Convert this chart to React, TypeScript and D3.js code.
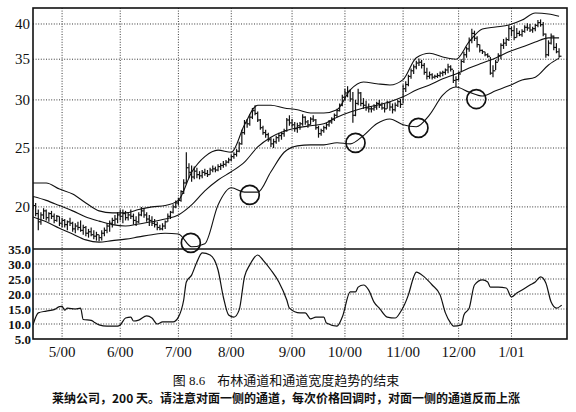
import React from 'react';
import * as d3 from 'd3';

const monthLabels = ['5/00', '6/00', '7/00', '8/00', '9/00', '10/00', '11/00', '12/00', '1/01'];
const monthDays = [11, 33, 55, 75, 98, 118, 140, 161, 181];
const priceTicks = [20, 25, 30, 35, 40];
const widthTicks = [5, 10, 15, 20, 25, 30, 35];

const highs = [
  20.8, 20.3, 19.8, 19.6, 19.9, 19.8, 19.6, 19.7, 19.5, 19.4, 19.3, 19.2,
  19.1, 19.0, 19.2, 18.9, 18.8, 18.9, 19.0, 18.7, 18.6, 18.4, 18.5, 18.3, 18.2, 18.0,
  18.3, 18.5, 18.8, 19.0, 19.2, 19.4, 19.6, 19.8,
  19.8, 19.7, 19.6, 19.8, 19.5, 19.3, 19.6, 20.0, 19.9, 19.6, 19.4, 19.3,
  19.1, 18.9, 18.7, 18.8, 19.0, 19.5, 19.7, 20.2, 20.5,
  20.7, 21.3, 22.2, 24.6, 23.6, 23.4,
  23.3, 23.2, 22.9, 23.0, 23.1, 23.0, 23.2, 23.4, 23.3, 23.5, 23.6, 23.8, 23.9, 24.1, 24.4, 24.6, 24.9,
  25.6, 26.8, 27.8, 27.9, 28.4, 29.1, 29.4, 28.7,
  27.9, 27.2, 26.8, 26.5, 26.0, 25.9, 26.2, 26.5, 26.6, 26.9, 28.0,
  28.3, 27.9, 27.6, 27.5, 27.6, 28.4, 28.2, 27.8, 28.1, 28.3, 27.9, 27.2,
  26.9, 27.2, 27.5, 27.8, 28.1, 28.5, 29.0, 29.6,
  30.6, 31.3, 31.6, 31.2, 30.9, 30.0, 31.3, 30.9, 30.2, 29.9, 29.6,
  29.3, 29.5, 29.8, 30.0, 29.7, 29.6, 29.9, 29.8, 29.6, 29.7, 30.0, 30.1,
  31.8, 32.2, 33.0, 33.8, 34.3, 34.8, 35.1, 34.9, 34.5,
  33.9, 33.4, 33.2, 33.0, 33.2, 33.4, 33.5, 33.8, 34.4, 34.2, 33.6, 32.8, 33.4,
  35.0, 36.0, 36.7, 38.0, 39.3, 39.0, 38.2, 37.0, 36.3, 36.0, 35.8,
  35.3, 34.2, 34.9, 35.8, 37.2, 37.8, 38.0, 39.8,
  39.6, 39.8, 39.4, 39.0, 39.2, 39.8, 40.1, 40.0, 39.6, 40.0, 40.6, 40.7, 40.3,
  38.6, 37.6, 38.6, 38.3, 37.2, 36.5,
];
const lows = [
  19.8, 19.3, 18.3, 18.7, 19.1, 19.0, 18.9, 19.1, 18.8, 18.9, 18.6, 18.5,
  18.5, 18.3, 18.6, 18.2, 18.1, 18.3, 18.2, 18.0, 17.9, 17.8, 17.9, 17.7, 17.6, 17.55,
  17.6, 17.9, 18.1, 18.2, 18.5, 18.7, 18.8, 19.0,
  18.8, 19.0, 19.0, 19.1, 18.7, 18.6, 18.8, 19.3, 19.2, 18.9, 18.6, 18.6,
  18.5, 18.3, 18.3, 18.3, 18.4, 18.9, 19.1, 19.5, 19.9,
  20.1, 20.4, 21.0, 21.8, 22.3, 22.0,
  22.2, 22.3, 22.2, 22.3, 22.5, 22.4, 22.6, 22.8, 22.8, 22.9, 23.0, 23.2, 23.3, 23.6, 23.8, 24.0, 24.2,
  24.6, 25.3, 26.3, 27.0, 27.2, 27.9, 28.3, 27.6,
  26.8, 26.3, 26.0, 25.6, 25.1, 25.0, 25.4, 25.6, 25.8, 26.1, 26.6,
  27.2, 27.0, 26.6, 26.5, 26.8, 27.2, 27.3, 27.0, 27.3, 27.6, 26.8, 26.0,
  26.2, 26.5, 26.8, 27.1, 27.4, 27.7, 28.1, 28.7,
  29.3, 29.9, 30.3, 29.8, 27.5, 28.2, 29.4, 29.3, 29.0, 28.8, 28.6,
  28.6, 28.8, 28.9, 29.1, 28.9, 28.6, 29.0, 28.8, 28.5, 28.7, 29.2, 29.1,
  29.6, 30.9, 31.6, 32.5, 33.1, 33.7, 34.1, 33.8, 33.0,
  32.4, 32.5, 32.4, 32.5, 32.6, 32.7, 32.8, 33.0, 33.2, 33.4, 32.0, 31.5, 32.3,
  33.3, 34.5, 35.2, 36.0, 37.2, 37.5, 36.6, 35.9, 35.7, 35.4, 35.2,
  33.0, 32.7, 33.6, 34.7, 35.0, 36.4, 36.8, 37.5,
  38.2, 37.6, 38.0, 38.2, 38.1, 38.7, 39.0, 38.8, 38.7, 38.9, 39.5, 39.6, 38.2,
  35.2, 35.4, 37.0, 36.2, 35.8, 35.2,
];
const closes = [
  20.1, 19.5, 18.9, 19.4, 19.7, 19.2, 19.5, 19.3, 19.0, 19.3, 18.8, 19.0,
  18.7, 18.9, 18.8, 18.4, 18.6, 18.5, 18.3, 18.5, 18.1, 18.2, 18.0, 17.9, 18.0, 17.8,
  18.1, 18.3, 18.6, 18.8, 19.0, 19.1, 19.4, 19.3,
  19.5, 19.2, 19.4, 19.3, 19.0, 18.9, 19.4, 19.7, 19.4, 19.1, 19.0, 18.8,
  18.7, 18.5, 18.4, 18.6, 18.9, 19.3, 19.6, 20.0, 20.3,
  20.5, 21.2, 21.9, 23.2, 22.8, 22.4,
  22.9, 22.6, 22.5, 22.8, 22.7, 22.6, 23.0, 23.1, 23.0, 23.3, 23.4, 23.5, 23.7, 23.9, 24.2, 24.4, 24.7,
  25.4, 26.5, 27.5, 27.4, 28.1, 28.8, 28.5, 27.8,
  27.0, 26.5, 26.3, 25.8, 25.4, 25.6, 26.0, 26.2, 26.4, 26.7, 27.8,
  27.5, 27.3, 26.9, 27.2, 27.4, 28.1, 27.6, 27.3, 27.9, 27.8, 27.0, 26.4,
  26.7, 27.0, 27.3, 27.6, 27.9, 28.3, 28.8, 29.4,
  30.3, 30.8, 31.0, 30.1, 28.3, 29.6, 30.8, 29.6, 29.4, 29.1, 29.0,
  29.0, 29.2, 29.6, 29.4, 29.1, 29.0, 29.7, 29.2, 28.9, 29.4, 29.8, 29.5,
  31.3, 31.8, 32.8, 33.5, 34.0, 34.5, 34.6, 34.2, 33.3,
  32.8, 33.0, 32.7, 32.8, 32.9, 33.2, 33.3, 33.6, 34.0, 33.7, 32.3, 32.4, 33.1,
  34.7, 35.6, 36.4, 37.6, 38.6, 37.9, 37.0, 36.2, 36.0, 35.6, 35.4,
  33.2, 33.5, 34.6, 35.5, 36.9, 37.2, 37.7, 39.3,
  39.0, 38.0, 38.6, 38.4, 38.9, 39.5, 39.4, 39.1, 39.3, 39.8, 40.2, 39.9, 38.5,
  35.6, 37.2, 38.2, 36.6, 36.0, 35.4,
];

const bandDays = [
  0, 5, 10, 15, 20, 25, 30, 35, 40, 45, 50, 55, 60, 65, 70, 75, 80, 85, 90, 95,
  100, 105, 110, 115, 120, 125, 130, 135, 140, 145, 150, 155, 160, 165, 170, 175, 180, 185, 190, 195, 199,
];
const upperBand = [
  21.9, 21.9, 21.4, 21.0, 20.3, 19.7, 19.55, 19.55, 19.8, 20.0, 20.1, 20.5, 22.8, 24.2, 24.8, 24.6, 27.3, 29.4, 29.4, 29.1,
  28.9, 28.55, 28.55, 28.9, 31.15, 32.1, 31.9, 31.75, 32.4, 35.2, 35.8, 35.3, 35.0, 37.4, 39.25, 39.55, 39.85, 40.6, 41.7, 41.55, 41.2,
];
const middleBand = [
  20.8, 20.5, 20.1, 19.7, 19.25, 18.95, 18.7, 18.6, 18.75, 18.9, 19.1, 19.4, 20.15, 21.25, 22.15, 22.85, 23.7, 25.1, 26.05, 26.65,
  27.0, 27.2, 27.4, 28.1, 28.65, 29.1, 29.4, 29.8, 30.35, 31.15, 31.75, 32.5, 33.1, 33.85, 34.5, 35.15, 36.0, 36.65, 37.35, 37.95, 37.95,
];
const lowerBand = [
  19.25, 18.9, 18.45, 18.05, 17.65, 17.5, 17.6, 17.7, 17.85, 18.0, 18.1, 18.05, 17.2, 17.4, 20.15, 21.5, 21.15, 21.15, 22.85, 24.6,
  25.2, 25.3, 25.3, 25.5, 25.4, 26.2, 27.4, 27.9, 27.3, 27.1, 28.35, 30.55, 31.5, 30.9, 30.45, 31.05, 31.65, 32.35, 32.7, 34.25, 35.15,
];

const bwDays = [
  0, 2, 5, 8, 10, 11, 12, 13, 16, 18, 19, 22, 23, 25, 28, 32, 33, 35, 37, 38, 40, 43, 45, 47, 49, 53, 55, 57, 58, 60,
  62, 64, 67, 70, 72, 74, 76, 78, 80, 82, 85, 87, 90, 93, 96, 97, 101, 103, 105, 107, 110, 111, 115, 117, 120, 122, 123, 125, 127, 129,
  131, 134, 137, 139, 142, 144, 145, 148, 151, 154, 156, 158, 159, 162, 163, 165, 167, 170, 172, 173, 176, 179, 181, 183, 185, 188, 190, 192, 194, 196,
  198, 200,
];
const bwValues = [
  9.7, 13.7, 14.3, 14.8, 15.8, 15.9, 14.6, 15.3, 15.0, 15.3, 11.5, 11.2, 10.7, 9.7, 9.3, 9.3, 9.7, 12.0, 12.3, 11.0, 11.3, 12.7, 12.0, 10.0, 10.7, 10.7, 12.3, 18.0, 24.0, 26.3,
  30.7, 33.7, 33.0, 28.0, 19.0, 13.0, 12.3, 14.7, 25.7, 29.7, 33.0, 31.3, 28.0, 24.0, 18.0, 15.3, 13.7, 13.7, 11.7, 12.3, 12.3, 10.3, 9.3, 12.3, 20.7, 20.7, 22.3, 23.0, 21.3, 17.3,
  15.3, 12.3, 12.0, 14.0, 19.7, 25.7, 27.3, 25.7, 23.0, 19.7, 13.7, 10.3, 9.3, 9.7, 13.0, 15.3, 23.0, 24.7, 24.0, 22.3, 22.3, 22.0, 19.0, 20.3, 21.3, 23.0, 24.0, 25.7, 23.7, 17.3,
  15.3, 16.3,
];

const circleDays = [59.7, 82, 122, 145.8, 167.7];
const circlePrices = [17.45, 20.93, 25.49, 26.98, 30.1];

const captionFig = '图 8.6';
const captionTitle = '布林通道和通道宽度趋势的结束';
const captionNote = '莱纳公司，200 天。请注意对面一侧的通道，每次价格回调时，对面一侧的通道反而上涨';

const W = 576;
const H = 412;
const L = 33;
const R = 567;
const T = 8;
const MID = 249;
const B = 339;

export default function App() {
  const x = d3.scaleLinear().domain([0, 202]).range([L, R]);
  const y = d3.scaleLog().domain([17.05, 42.5]).range([MID, T]);
  const yb = d3.scaleLinear().domain([5, 35]).range([B, MID]);

  const bandLine = (vals: number[]) =>
    d3
      .line<number>()
      .x((_, i) => x(bandDays[i]))
      .y((v) => y(v))
      .curve(d3.curveMonotoneX)(vals) || '';

  const bwPath =
    d3
      .line<number>()
      .x((_, i) => x(bwDays[i]))
      .y((v) => yb(v))
      .curve(d3.curveMonotoneX)(bwValues) || '';

  const gridStyle = { stroke: '#222', strokeWidth: 0.9, strokeDasharray: '1,1.6' };
  const serif = '"Liberation Serif", "DejaVu Serif", serif';
  const cjk = '"Noto Sans CJK SC", sans-serif';

  return (
    <svg
      width={W}
      height={H}
      viewBox={`0 0 ${W} ${H}`}
      style={{ position: 'absolute', left: 0, top: 0, background: '#fff' }}
    >
      <rect x={0} y={0} width={W} height={H} fill="#fff" />
      <defs>
        <clipPath id="topclip">
          <rect x={L} y={T} width={R - L} height={MID - T} />
        </clipPath>
        <clipPath id="botclip">
          <rect x={L} y={MID} width={R - L} height={B - MID} />
        </clipPath>
      </defs>

      {/* grid */}
      {monthDays.map((d, i) => (
        <line key={'vg' + i} x1={x(d)} x2={x(d)} y1={T} y2={B} {...gridStyle} />
      ))}
      {priceTicks.map((p, i) => (
        <line key={'hg' + i} x1={L} x2={R} y1={y(p)} y2={y(p)} {...gridStyle} />
      ))}
      {widthTicks
        .filter((v) => v > 5 && v < 35)
        .map((v, i) => (
          <line key={'bg' + i} x1={L} x2={R} y1={yb(v)} y2={yb(v)} {...gridStyle} />
        ))}

      {/* price bars */}
      <g clipPath="url(#topclip)" stroke="#111" strokeWidth={1.2}>
        {highs.map((h, i) => {
          const cx = x(i);
          return (
            <g key={'b' + i}>
              <line x1={cx} x2={cx} y1={y(h)} y2={y(lows[i])} />
              <line x1={cx} x2={cx + 2.4} y1={y(closes[i])} y2={y(closes[i])} />
            </g>
          );
        })}
      </g>

      {/* bands */}
      <g clipPath="url(#topclip)" fill="none" stroke="#111" strokeWidth={1.1}>
        <path d={bandLine(upperBand)} />
        <path d={bandLine(middleBand)} />
        <path d={bandLine(lowerBand)} />
      </g>

      {/* circles */}
      <g fill="none" stroke="#111" strokeWidth={1.7}>
        {circleDays.map((d, i) => (
          <circle key={'c' + i} cx={x(d)} cy={y(circlePrices[i])} r={9.5} />
        ))}
      </g>

      {/* bandwidth */}
      <g clipPath="url(#botclip)">
        <path d={bwPath} fill="none" stroke="#111" strokeWidth={1.2} />
      </g>

      {/* frame */}
      <rect x={L} y={T} width={R - L} height={B - T} fill="none" stroke="#111" strokeWidth={1.6} />
      <line x1={L} x2={R} y1={MID} y2={MID} stroke="#111" strokeWidth={1.6} />

      {/* y labels top */}
      {priceTicks.map((p, i) => (
        <text
          key={'yl' + i}
          x={L - 3}
          y={y(p)}
          dy="0.35em"
          textAnchor="end"
          fontFamily={serif}
          fontSize={15}
          fill="#111"
        >
          {p}
        </text>
      ))}
      {/* y labels bottom */}
      {widthTicks.map((v, i) => (
        <text
          key={'bl' + i}
          x={L - 2}
          y={yb(v)}
          dy="0.35em"
          textAnchor="end"
          fontFamily={serif}
          fontWeight="bold"
          fontSize={13}
          fill="#111"
        >
          {v.toFixed(1)}
        </text>
      ))}
      {/* x labels */}
      {monthDays.map((d, i) => (
        <text
          key={'xl' + i}
          x={x(d)}
          y={357}
          textAnchor="middle"
          fontFamily={serif}
          fontSize={15}
          fill="#111"
        >
          {monthLabels[i]}
        </text>
      ))}

      {/* caption */}
      <text x={286} y={385} textAnchor="middle" fontFamily={cjk} fontSize={13} fill="#111">
        <tspan>{captionFig.slice(0, 1)}</tspan>
        <tspan fontFamily={serif}>{' ' + captionFig.slice(2)}</tspan>
        <tspan dx={12}>{captionTitle}</tspan>
      </text>
      <text x={286} y={403} textAnchor="middle" fontFamily={cjk} fontWeight="bold" fontSize={12} fill="#111">
        {captionNote}
      </text>
    </svg>
  );
}
